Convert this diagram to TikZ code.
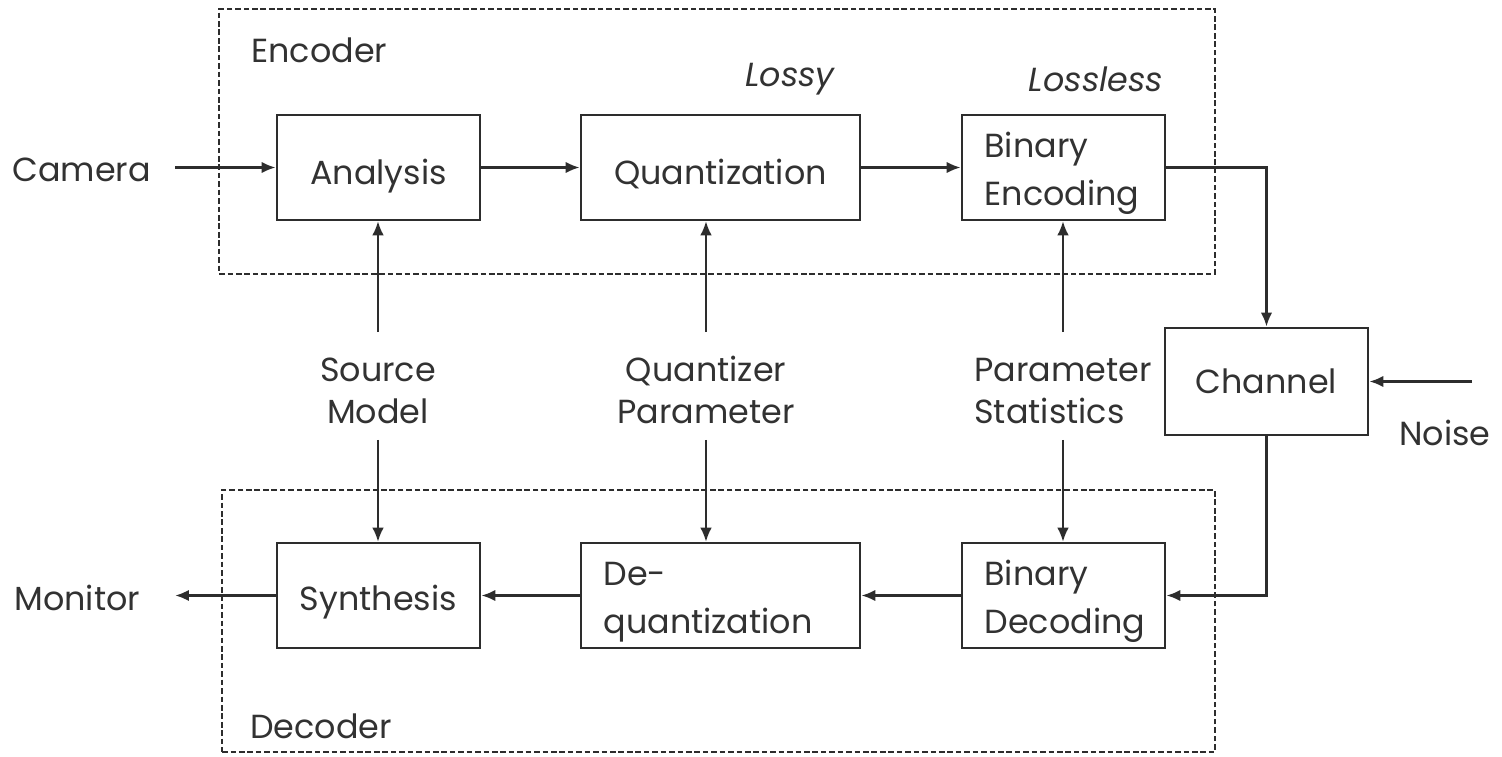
\documentclass[tikz,border=0pt]{standalone}
\usepackage{fontspec}
\setmainfont{Poppins}
\usetikzlibrary{arrows.meta}
\definecolor{txt}{RGB}{50,50,50}
\definecolor{ln}{RGB}{45,45,45}
\newcommand{\tstrut}{\rule{0pt}{21pt}}
\newcommand{\lstrut}{\rule{0pt}{19pt}}
\begin{document}
\begin{tikzpicture}[x=0.02cm,y=-0.02cm,
  font=\fontsize{19}{27}\selectfont, text=txt,
  blk/.style={draw=ln, line width=1.5pt, minimum width=4.06cm, minimum height=2.1cm, inner sep=0pt},
  blkone/.style={blk, text height=22pt, text depth=3pt},
  blkl/.style={blk, text width=#1, inner xsep=0.45cm, align=left},
  grp/.style={draw=ln, dash pattern=on 3.2pt off 1.6pt, line width=0.9pt, inner sep=0pt},
  arr/.style={draw=ln, line width=1.5pt, -{Latex[length=2.8mm,width=2.3mm]}},
  varr/.style={draw=ln, line width=1pt, -{Latex[length=2.8mm,width=2.3mm]}},
  lbl/.style={align=center, minimum height=2.14cm, inner sep=0pt, font=\fontsize{19}{24}\selectfont},
  plain/.style={inner sep=0pt}
]
\useasboundingbox (0,0) rectangle (1502,757);
% group frames
\node[grp, minimum width=19.92cm, minimum height=5.30cm] (enc) at (717,141.5) {};
\node[grp, minimum width=19.86cm, minimum height=5.24cm] (dec) at (718.5,621) {};
\node[plain, anchor=west] (enct) at (251,50) {Encoder};
\node[plain, anchor=west] (dect) at (250,726) {Decoder};
\node[plain, font=\fontsize{19}{26}\selectfont\itshape] (lossy) at (790,79) {Lossy};
\node[plain, font=\fontsize{19}{26}\selectfont\itshape] (lossless) at (1096,79) {Lossless};
% encoder blocks
\node[blkone] (ana) at (378.5,167.5) {Analysis};
\node[blkone, minimum width=5.58cm] (qua) at (720.5,167.5) {Quantization};
\node[blkl=3.16cm] (ben) at (1063.5,167.5) {\tstrut Binary\\Encoding};
% channel
\node[blk, minimum height=2.14cm] (cha) at (1266.5,381.5) {Channel};
% decoder blocks
\node[blk, text height=21pt, text depth=3.5pt] (syn) at (378.5,595.5) {Synthesis};
\node[blkl=4.68cm, minimum width=5.58cm] (deq) at (720.5,595.5) {\tstrut De-\\quantization};
\node[blkl=3.16cm] (bde) at (1063.5,595.5) {\tstrut Binary\\Decoding};
% side parameters
\node[lbl] (sm) at (378,386) {\lstrut Source\\Model};
\node[lbl] (qp) at (706,386) {\lstrut Quantizer\\Parameter};
\node[lbl, align=left] (ps) at (1063,386) {\lstrut Parameter\\Statistics};
% outside
\node[plain, anchor=west] (cam) at (12,170) {Camera};
\coordinate (camout) at (175,167.5);
\node[plain, anchor=west] (mon) at (14,598) {Monitor};
\coordinate (monin) at (175,595.5);
\node[plain] (noi) at (1445,433) {Noise};
\coordinate (nzin) at (1472,381.5);
% connectors
\draw[arr] (camout) -- (ana.west);
\draw[arr] (ana.east) -- (qua.west);
\draw[arr] (qua.east) -- (ben.west);
\draw[arr] (ben.east) -| (cha.north);
\draw[arr] (nzin) -- (cha.east);
\draw[arr] (cha.south) |- (bde.east);
\draw[arr] (bde.west) -- (deq.east);
\draw[arr] (deq.west) -- (syn.east);
\draw[arr] (syn.west) -- (monin);
\draw[varr] (sm.north) -- (sm.north |- ana.south);
\draw[varr] (sm.south) -- (sm.south |- syn.north);
\draw[varr] (qp.north) -- (qp.north |- qua.south);
\draw[varr] (qp.south) -- (qp.south |- deq.north);
\draw[varr] (ps.north) -- (ps.north |- ben.south);
\draw[varr] (ps.south) -- (ps.south |- bde.north);
\end{tikzpicture}
\end{document}
